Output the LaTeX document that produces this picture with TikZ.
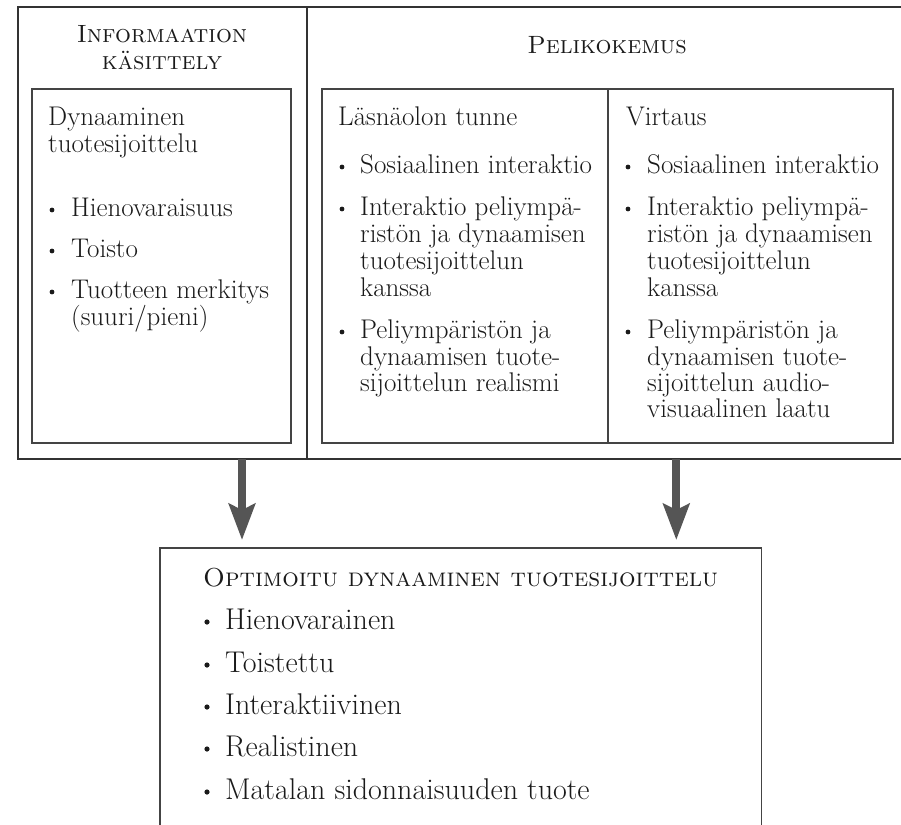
\documentclass[tikz,border=0pt]{standalone}
\usepackage{fontspec}
\usetikzlibrary{arrows.meta,calc}
\definecolor{framec}{HTML}{333333}
\definecolor{innerc}{HTML}{444444}
\definecolor{arrowc}{HTML}{555555}
\definecolor{textc}{HTML}{1A1A1A}
\newcommand{\heavier}{\addfontfeature{FakeBold=0.6}}
\tikzset{
  outerbox/.style={draw=framec, line width=1.6pt, anchor=north west, inner sep=0pt, outer sep=0pt},
  innerbox/.style={draw=innerc, line width=1.2pt, anchor=north west, inner sep=0pt, outer sep=0pt},
  txt/.style={anchor=base west, inner sep=0pt, text=textc, font=\fontsize{27}{29}\selectfont\heavier},
  btxt/.style={anchor=base west, inner sep=0pt, text=textc, font=\fontsize{30}{32}\selectfont\heavier},
  sctxt/.style={anchor=base, inner sep=0pt, text=textc, font=\fontsize{25}{27}\selectfont\scshape\heavier},
  bsctxt/.style={anchor=base west, inner sep=0pt, text=textc, font=\fontsize{26}{28}\selectfont\scshape\heavier},
  dot/.style={circle, fill=textc, inner sep=0pt, minimum size=4.8pt},
  bigdot/.style={circle, fill=textc, inner sep=0pt, minimum size=5.2pt},
  bigarrow/.style={draw=arrowc, line width=8pt, -{Stealth[length=36pt, width=26pt, inset=6pt]}}
}
\begin{document}
\begin{tikzpicture}[x=1pt,y=-1pt]
\useasboundingbox (0,0) rectangle (901,824);
\fill[white] (0,0) rectangle (901,824);

% outer frame
\node[outerbox, minimum width=289pt, minimum height=452pt] (info) at (18,7) {};
\node[outerbox, minimum width=620pt, minimum height=452pt] (peli) at (307,7) {};

% inner boxes
\node[innerbox, minimum width=259pt, minimum height=354pt] (dyn) at (32,89) {};
\node[innerbox, minimum width=286pt, minimum height=354pt] (lasna) at (322,89) {};
\node[innerbox, minimum width=285pt, minimum height=354pt] (virt) at (608,89) {};

% headings
\node[sctxt] (hinfo1) at (162,43) {Informaation};
\node[sctxt] (hinfo2) at (162,70) {käsittely};
\node[sctxt] (hpeli) at (607,54) {Pelikokemus};

% left column
\node[txt] (d1) at (48,125) {Dynaaminen};
\node[txt] (d2) at (48,152) {tuotesijoittelu};
\node[dot] (db1) at (52,210) {};
\node[txt] (dt1) at (71,216) {Hienovaraisuus};
\node[dot] (db2) at (52,251) {};
\node[txt] (dt2) at (71,257) {Toisto};
\node[dot] (db3) at (52,292) {};
\node[txt] (dt3a) at (71,298) {Tuotteen merkitys};
\node[txt] (dt3b) at (71,325) {(suuri/pieni)};

% Läsnäolon tunne
\node[txt] (l0) at (338,125) {Läsnäolon tunne};
\node[dot] (lb1) at (342,167) {};
\node[txt] (lt1) at (360,173) {Sosiaalinen interaktio};
\node[dot] (lb2) at (342,209) {};
\node[txt] (lt2a) at (360,215) {Interaktio peliympä-};
\node[txt] (lt2b) at (360,242) {ristön ja dynaamisen};
\node[txt] (lt2c) at (360,269) {tuotesijoittelun};
\node[txt] (lt2d) at (360,296) {kanssa};
\node[dot] (lb3) at (342,332) {};
\node[txt] (lt3a) at (360,338) {Peliympäristön ja};
\node[txt] (lt3b) at (360,365) {dynaamisen tuote-};
\node[txt] (lt3c) at (360,391) {sijoittelun realismi};

% Virtaus
\node[txt] (v0) at (626,125) {Virtaus};
\node[dot] (vb1) at (628,167) {};
\node[txt] (vt1) at (647,173) {Sosiaalinen interaktio};
\node[dot] (vb2) at (628,209) {};
\node[txt] (vt2a) at (647,215) {Interaktio peliympä-};
\node[txt] (vt2b) at (647,242) {ristön ja dynaamisen};
\node[txt] (vt2c) at (647,269) {tuotesijoittelun};
\node[txt] (vt2d) at (647,296) {kanssa};
\node[dot] (vb3) at (628,332) {};
\node[txt] (vt3a) at (647,338) {Peliympäristön ja};
\node[txt] (vt3b) at (647,365) {dynaamisen tuote-};
\node[txt] (vt3c) at (647,391) {sijoittelun audio-};
\node[txt] (vt3d) at (647,417) {visuaalinen laatu};

% bottom box content
\node[bsctxt] (o0) at (203,586) {Optimoitu dynaaminen tuotesijoittelu};
\node[bigdot] (ob1) at (207,622) {};
\node[btxt] (ot1) at (225,629) {Hienovarainen};
\node[bigdot] (ob2) at (207,665) {};
\node[btxt] (ot2) at (225,672) {Toistettu};
\node[bigdot] (ob3) at (207,707) {};
\node[btxt] (ot3) at (225,714) {Interaktiivinen};
\node[bigdot] (ob4) at (207,749) {};
\node[btxt] (ot4) at (225,756) {Realistinen};
\node[bigdot] (ob5) at (207,792) {};
\node[btxt] (ot5) at (225,799) {Matalan sidonnaisuuden tuote};

% bottom box sized to its heading
\path let \p1=(o0.east) in
  node[innerbox, minimum width={\x1-160pt+43pt}, minimum height=320pt] (opt) at (160,548) {};

% arrows
\coordinate (x1) at ($(opt.north west)+(82,0)$);
\coordinate (x2) at ($(opt.north east)+(-85,0)$);
\draw[bigarrow, shorten >=8pt] (info.south -| x1) -- (opt.north -| x1);
\draw[bigarrow, shorten >=8pt] (peli.south -| x2) -- (opt.north -| x2);
\end{tikzpicture}
\end{document}
